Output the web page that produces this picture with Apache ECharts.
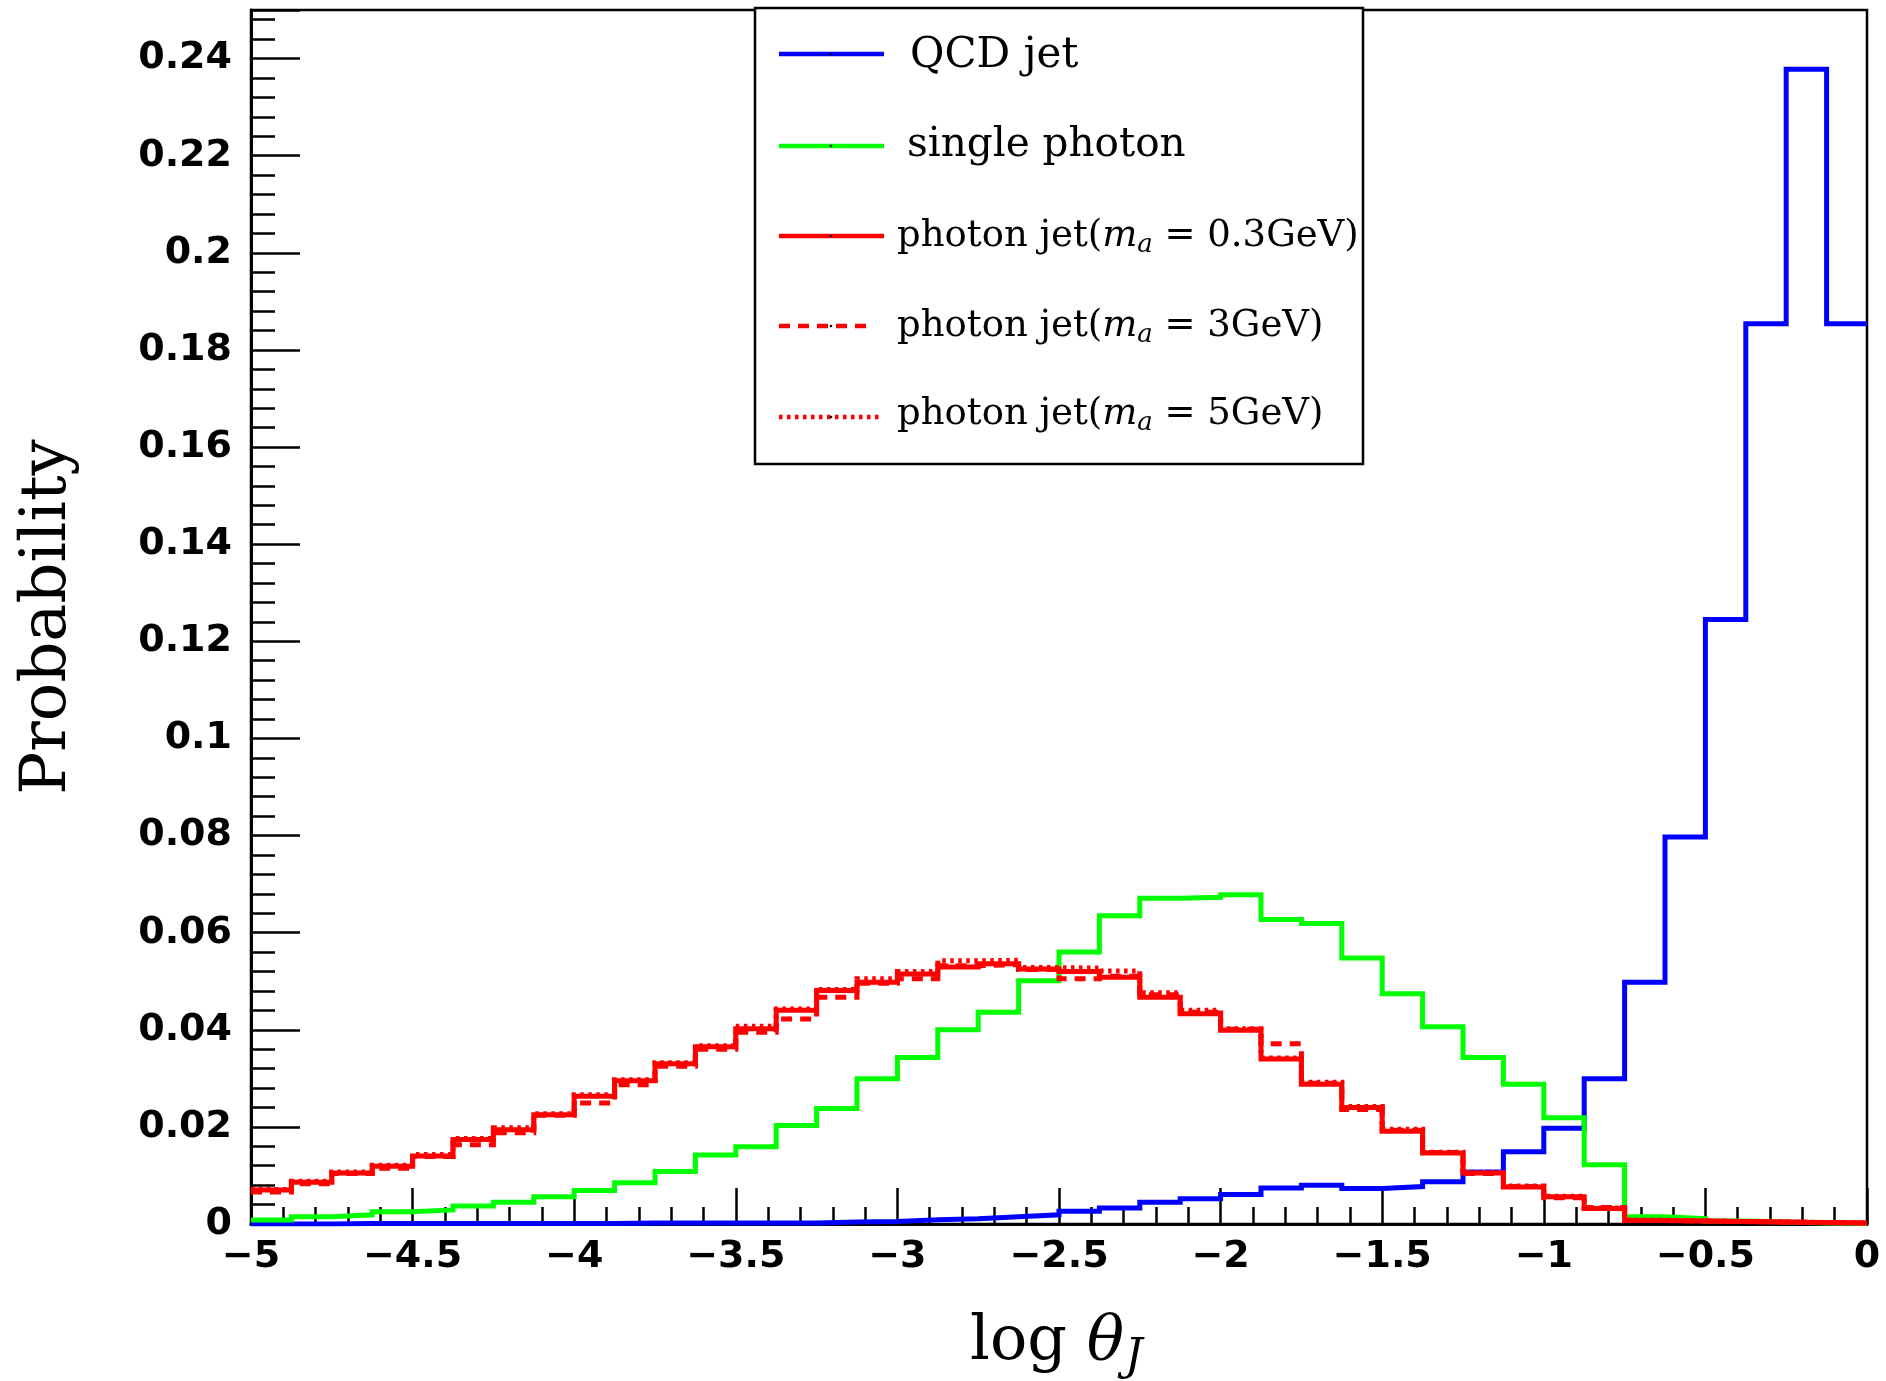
<!DOCTYPE html>
<html>
<head>
<meta charset="utf-8">
<script src="https://cdn.jsdelivr.net/npm/echarts@6/dist/echarts.min.js"></script>
<style>
  html, body { margin: 0; padding: 0; background: #ffffff; }
  #chart { width: 1886px; height: 1381px; }
</style>
</head>
<body>
<div id="chart"></div>
<script>
// Bin edges of log(theta_J): 40 bins of width 0.125 from -5 to 0
const binEdges = [-5, -4.875, -4.75, -4.625, -4.5, -4.375, -4.25, -4.125, -4, -3.875,
  -3.75, -3.625, -3.5, -3.375, -3.25, -3.125, -3, -2.875, -2.75, -2.625,
  -2.5, -2.375, -2.25, -2.125, -2, -1.875, -1.75, -1.625, -1.5, -1.375,
  -1.25, -1.125, -1, -0.875, -0.75, -0.625, -0.5, -0.375, -0.25, -0.125, 0];

// Normalised bin contents (probability per bin)
const qcdJet = [0.0000, 0.0000, 0.0001, 0.0001, 0.0001, 0.0001, 0.0001, 0.0001, 0.0001, 0.0002,
  0.0002, 0.0002, 0.0002, 0.0002, 0.0004, 0.0005, 0.0009, 0.0011, 0.0015, 0.0019,
  0.0026, 0.0033, 0.0045, 0.0052, 0.0061, 0.0074, 0.0080, 0.0073, 0.0077, 0.0087,
  0.0107, 0.0149, 0.0197, 0.0299, 0.0498, 0.0797, 0.1245, 0.1854, 0.2378, 0.1854];

const singlePhoton = [0.0008, 0.0015, 0.0019, 0.0025, 0.0029, 0.0037, 0.0045, 0.0056, 0.0069, 0.0085,
  0.0108, 0.0142, 0.0159, 0.0203, 0.0238, 0.0299, 0.0343, 0.0400, 0.0436, 0.0501,
  0.0560, 0.0635, 0.0671, 0.0673, 0.0678, 0.0627, 0.0619, 0.0548, 0.0474, 0.0406,
  0.0343, 0.0288, 0.0219, 0.0122, 0.0015, 0.0011, 0.0006, 0.0004, 0.0002, 0.0001];

const photonJet03 = [0.0070, 0.0086, 0.0105, 0.0119, 0.0140, 0.0174, 0.0194, 0.0225, 0.0263, 0.0295,
  0.0330, 0.0365, 0.0402, 0.0440, 0.0481, 0.0498, 0.0515, 0.0529, 0.0536, 0.0525,
  0.0520, 0.0508, 0.0467, 0.0433, 0.0399, 0.0340, 0.0288, 0.0240, 0.0191, 0.0146,
  0.0105, 0.0076, 0.0056, 0.0032, 0.0007, 0.0006, 0.0005, 0.0004, 0.0003, 0.0002];

const photonJet3 = [0.0066, 0.0083, 0.0104, 0.0115, 0.0139, 0.0163, 0.0188, 0.0224, 0.0249, 0.0287,
  0.0325, 0.0360, 0.0395, 0.0422, 0.0467, 0.0496, 0.0505, 0.0532, 0.0534, 0.0524,
  0.0505, 0.0510, 0.0472, 0.0436, 0.0401, 0.0371, 0.0290, 0.0236, 0.0193, 0.0147,
  0.0104, 0.0077, 0.0054, 0.0034, 0.0007, 0.0006, 0.0005, 0.0004, 0.0003, 0.0002];

const photonJet5 = [0.0071, 0.0088, 0.0107, 0.0121, 0.0143, 0.0176, 0.0198, 0.0227, 0.0266, 0.0297,
  0.0332, 0.0367, 0.0407, 0.0443, 0.0483, 0.0505, 0.0520, 0.0542, 0.0543, 0.0528,
  0.0527, 0.0521, 0.0476, 0.0440, 0.0402, 0.0342, 0.0292, 0.0242, 0.0195, 0.0148,
  0.0106, 0.0078, 0.0057, 0.0033, 0.0008, 0.0006, 0.0005, 0.0004, 0.0003, 0.0002];

const xTickLabels = ['−5', '−4.5', '−4', '−3.5', '−3', '−2.5', '−2', '−1.5', '−1', '−0.5', '0'];
const yTickLabels = ['0', '0.02', '0.04', '0.06', '0.08', '0.1', '0.12', '0.14', '0.16', '0.18', '0.2', '0.22', '0.24'];

// Step outline: one point per bin's left edge, plus the last right edge
function histPoints(vals) {
  const pts = vals.map((v, i) => [binEdges[i], v]);
  pts.push([binEdges[vals.length], vals[vals.length - 1]]);
  return pts;
}

const SERIF = 'DejaVu Serif';
const SANS = 'DejaVu Sans';
const LINE_W = 5;

function stepSeries(name, vals, color, dash) {
  return {
    name: name,
    type: 'line',
    step: 'end',
    xAxisIndex: 0,
    yAxisIndex: 0,
    showSymbol: false,
    symbol: 'none',
    data: histPoints(vals),
    lineStyle: { color: color, width: LINE_W, type: dash || 'solid', cap: 'butt', join: 'miter' },
    itemStyle: { color: color },
    emphasis: { disabled: true },
    silent: true,
    clip: true
  };
}

const chart = echarts.init(document.getElementById('chart'));

const plotBox = { left: 251, top: 10, width: 1616, height: 1214 };
const tickColor = '#000';

// Legend layout
const legendBox = { x: 755, y: 8, w: 608, h: 456 };
const legendRows = [
  { y: 54, color: '#0000ff', dash: null, x2: 884 },
  { y: 146, color: '#00ff00', dash: null, x2: 884 },
  { y: 236, color: '#ff0000', dash: null, x2: 884 },
  { y: 326, color: '#ff0000', dash: [11, 8], x2: 874 },
  { y: 417, color: '#ff0000', dash: [3.5, 4.5], x2: 882 }
];

const mathRich = {
  t: { fontFamily: SERIF, fontSize: 37, fill: '#000', textFill: '#000' },
  m: { fontFamily: SERIF, fontSize: 37, fontStyle: 'italic', fill: '#000', textFill: '#000' },
  s: { fontFamily: SERIF, fontSize: 26, fontStyle: 'italic', fill: '#000', textFill: '#000', padding: [18, 0, 0, 0] }
};

const legendTexts = [
  { x: 910, y: 56, text: 'QCD jet', size: 42 },
  { x: 907, y: 145, text: 'single photon', size: 40.5 },
  { x: 897, y: 236, text: '{t|photon jet(}{m|m}{s|a}{t| = 0.3GeV)}', rich: true },
  { x: 897, y: 326, text: '{t|photon jet(}{m|m}{s|a}{t| = 3GeV)}', rich: true },
  { x: 897, y: 414, text: '{t|photon jet(}{m|m}{s|a}{t| = 5GeV)}', rich: true }
];

const graphics = [];
graphics.push({
  type: 'rect', z: 100,
  shape: { x: legendBox.x, y: legendBox.y, width: legendBox.w, height: legendBox.h },
  style: { fill: '#fff', stroke: '#000', lineWidth: 2.5 }
});
legendRows.forEach(r => {
  graphics.push({
    type: 'line', z: 101,
    shape: { x1: 779, y1: r.y, x2: r.x2, y2: r.y },
    style: { stroke: r.color, lineWidth: 4.5, lineDash: r.dash || null }
  });
  graphics.push({
    type: 'circle', z: 102,
    shape: { cx: 831, cy: r.y, r: 1.3 },
    style: { fill: '#000' }
  });
});
legendTexts.forEach(t => {
  const style = {
    text: t.text, x: t.x, y: t.y,
    textAlign: 'left', textVerticalAlign: 'middle',
    fill: '#000', textFill: '#000',
    fontFamily: SERIF, fontSize: t.size || 37
  };
  if (t.rich) style.rich = mathRich;
  graphics.push({ type: 'text', z: 102, style: style });
});

// Axis titles
graphics.push({
  type: 'text', z: 50, x: 48, y: 617, rotation: Math.PI / 2,
  style: {
    text: 'Probability', x: 0, y: 0, textAlign: 'center', textVerticalAlign: 'middle',
    fontFamily: SERIF, fontSize: 64, fill: '#000', textFill: '#000'
  }
});
graphics.push({
  type: 'text', z: 50,
  style: {
    text: '{r|log }{i|θ}', x: 1124, y: 1343, textAlign: 'right', textVerticalAlign: 'middle',
    rich: {
      r: { fontFamily: SERIF, fontSize: 62, fill: '#000', textFill: '#000' },
      i: { fontFamily: SERIF, fontSize: 62, fontStyle: 'italic', fill: '#000', textFill: '#000' }
    }
  }
});
graphics.push({
  type: 'text', z: 50,
  style: {
    text: 'J', x: 1125, y: 1359, textAlign: 'left', textVerticalAlign: 'middle',
    fontFamily: SERIF, fontSize: 44, fontStyle: 'italic', fill: '#000', textFill: '#000'
  }
});

function xLabel(v) {
  const idx = Math.round((v + 5) / 0.5);
  if (Math.abs(-5 + idx * 0.5 - v) > 1e-6) return '';
  return xTickLabels[idx] || '';
}
function yLabel(v) {
  const idx = Math.round(v / 0.02);
  if (Math.abs(idx * 0.02 - v) > 1e-6) return '';
  return yTickLabels[idx] || '';
}

chart.setOption({
  animation: false,
  backgroundColor: '#ffffff',
  grid: [
    // main frame
    Object.assign({
      show: true, borderColor: '#000', borderWidth: 2.5, backgroundColor: 'transparent',
      containLabel: false, outerBoundsMode: 'none'
    }, plotBox),
    // same box, only carries the short y ticks every 0.004
    Object.assign({
      show: false, containLabel: false, outerBoundsMode: 'none'
    }, plotBox)
  ],
  xAxis: [
    {
      type: 'value', gridIndex: 0, min: -5, max: 0, interval: 0.5,
      axisLine: { show: true, onZero: false, lineStyle: { color: '#000', width: 3 } },
      axisTick: { show: true, inside: true, length: 36, lineStyle: { color: tickColor, width: 2.5 } },
      minorTick: { show: true, splitNumber: 5, length: 17, lineStyle: { color: tickColor, width: 2.5 } },
      splitLine: { show: false },
      minorSplitLine: { show: false },
      axisLabel: {
        show: true, formatter: xLabel, margin: 14, color: '#000',
        fontFamily: SANS, fontWeight: 'bold', fontSize: 38,
        showMinLabel: true, showMaxLabel: true, hideOverlap: false
      }
    },
    {
      type: 'value', gridIndex: 1, min: -5, max: 0, interval: 0.5, show: false
    }
  ],
  yAxis: [
    {
      type: 'value', gridIndex: 0, min: 0, max: 0.25, interval: 0.02, position: 'left',
      axisLine: { show: true, onZero: false, lineStyle: { color: '#000', width: 3 } },
      axisTick: { show: true, inside: true, length: 49, lineStyle: { color: tickColor, width: 2.5 } },
      splitLine: { show: false },
      axisLabel: {
        show: true, formatter: yLabel, margin: 19, color: '#000',
        fontFamily: SANS, fontWeight: 'bold', fontSize: 38,
        showMinLabel: true, showMaxLabel: true, hideOverlap: false
      }
    },
    {
      type: 'value', gridIndex: 1, min: 0, max: 0.25, interval: 0.004, position: 'left',
      axisLine: { show: false, onZero: false },
      axisTick: { show: true, inside: true, length: 24, lineStyle: { color: tickColor, width: 2.5 } },
      splitLine: { show: false },
      axisLabel: { show: false }
    }
  ],
  series: [
    stepSeries('QCD jet', qcdJet, '#0000ff'),
    stepSeries('single photon', singlePhoton, '#00ff00'),
    stepSeries('photon jet (m_a = 0.3GeV)', photonJet03, '#ff0000'),
    stepSeries('photon jet (m_a = 3GeV)', photonJet3, '#ff0000', [11, 8]),
    stepSeries('photon jet (m_a = 5GeV)', photonJet5, '#ff0000', [3.5, 4.5])
  ],
  graphic: { elements: graphics }
});
</script>
</body>
</html>
